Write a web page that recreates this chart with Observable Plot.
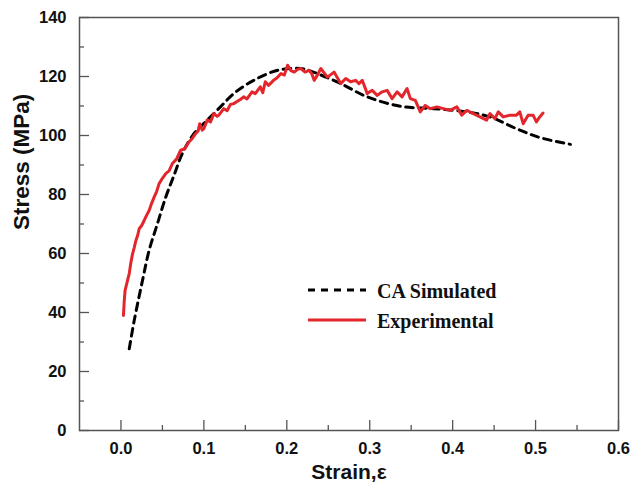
<!DOCTYPE html>
<html>
<head>
<meta charset="utf-8">
<script src="https://cdn.jsdelivr.net/npm/d3@7"></script>
<script src="https://cdn.jsdelivr.net/npm/@observablehq/plot@0.6"></script>
<style>
  html, body { margin: 0; padding: 0; background: #fff; }
  #wrap { position: relative; width: 633px; height: 492px; }
  #legend { position: absolute; left: 0; top: 0; pointer-events: none; }
</style>
</head>
<body>
<div id="wrap"></div>
<script>
// ---- data ----
const simStrain = [0.010, 0.016, 0.026, 0.034, 0.044, 0.054, 0.064, 0.074, 0.088, 0.104, 0.120, 0.136, 0.160, 0.189, 0.217, 0.232, 0.265, 0.297, 0.337, 0.377, 0.417, 0.445, 0.477, 0.505, 0.542];
const simStress = [27.7, 37.3, 50.9, 61.1, 70.1, 79.1, 86.5, 93.9, 100.6, 105.2, 109.7, 114.2, 118.7, 122.1, 122.7, 121.5, 117.6, 113.1, 109.9, 109.1, 108.0, 106.3, 102.3, 99.3, 97.0];

const expStrain = [0.003, 0.004, 0.005, 0.008, 0.010, 0.012, 0.014, 0.016, 0.018, 0.020, 0.022, 0.025, 0.028, 0.031, 0.034, 0.037, 0.040, 0.043, 0.046, 0.050, 0.054, 0.058, 0.062, 0.067, 0.072, 0.077, 0.082, 0.086, 0.090, 0.093, 0.095, 0.098, 0.100, 0.104, 0.108, 0.112, 0.116, 0.118, 0.124, 0.128, 0.132, 0.136, 0.140, 0.144, 0.148, 0.152, 0.158, 0.162, 0.168, 0.171, 0.174, 0.178, 0.184, 0.188, 0.193, 0.197, 0.201, 0.205, 0.209, 0.213, 0.217, 0.222, 0.227, 0.230, 0.233, 0.237, 0.241, 0.249, 0.257, 0.265, 0.271, 0.277, 0.283, 0.287, 0.291, 0.297, 0.303, 0.309, 0.315, 0.321, 0.327, 0.333, 0.339, 0.345, 0.349, 0.355, 0.361, 0.367, 0.373, 0.381, 0.389, 0.397, 0.405, 0.411, 0.417, 0.425, 0.433, 0.441, 0.445, 0.451, 0.455, 0.461, 0.469, 0.477, 0.481, 0.485, 0.491, 0.497, 0.501, 0.505, 0.509];
const expStress = [39.0, 44.0, 47.5, 51.0, 53.2, 57.0, 59.9, 62.0, 64.4, 66.0, 68.4, 69.5, 71.2, 73.0, 74.6, 77.0, 79.1, 81.0, 83.7, 85.5, 87.1, 88.0, 90.5, 92.0, 95.0, 95.5, 97.8, 99.0, 100.6, 101.5, 104.0, 101.8, 102.3, 105.2, 104.6, 107.4, 106.5, 106.9, 109.1, 108.4, 110.5, 110.8, 111.5, 112.2, 113.1, 112.4, 114.8, 114.2, 116.5, 114.5, 118.2, 117.0, 118.7, 119.5, 121.0, 120.5, 123.8, 122.0, 121.5, 122.4, 122.7, 121.5, 122.1, 121.0, 118.7, 120.5, 122.7, 119.8, 121.5, 117.6, 119.3, 118.2, 118.7, 117.6, 118.7, 114.2, 115.3, 113.6, 114.8, 115.3, 112.5, 114.8, 113.1, 115.9, 112.5, 111.9, 108.0, 110.2, 109.1, 109.7, 109.1, 108.5, 109.7, 106.9, 108.5, 107.4, 106.3, 105.2, 107.4, 105.7, 108.0, 106.3, 106.9, 106.9, 108.0, 104.0, 106.9, 106.9, 104.6, 106.3, 107.6];

const xMajor = [0.0, 0.1, 0.2, 0.3, 0.4, 0.5, 0.6];
const xMinor = [0.05, 0.15, 0.25, 0.35, 0.45, 0.55];
const yMajor = [0, 20, 40, 60, 80, 100, 120, 140];
const yMinor = [10, 30, 50, 70, 90, 110, 130];

const seriesNames = ["CA Simulated", "Experimental"];
const xTitle = "Strain,ε";
const yTitle = "Stress (MPa)";

// ---- build tables ----
const sim = simStrain.map((x, i) => ({x, y: simStress[i]}));
const exp = expStrain.map((x, i) => ({x, y: expStress[i]}));

const red = "#e3262c";
const axisGray = "#555";

const chart = Plot.plot({
  width: 633,
  height: 492,
  marginLeft: 79,
  marginRight: 15,
  marginTop: 17,
  marginBottom: 62,
  x: {domain: [-0.05, 0.6]},
  y: {domain: [0, 140]},
  style: {fontFamily: "'Liberation Sans', Arial, sans-serif", fontWeight: "bold", fontSize: "16px", color: "#111", background: "#fff"},
  marks: [
    Plot.axisX(xMajor, {tickSize: -10, text: null, label: null, stroke: axisGray, strokeWidth: 1.3}),
    Plot.axisX(xMinor, {tickSize: -5, text: null, label: null, stroke: axisGray, strokeWidth: 1.3}),
    Plot.axisX(xMajor, {tickSize: 0, tickPadding: 12, tickFormat: d => d.toFixed(1), label: null, fontSize: 16.5}),
    Plot.axisY(yMajor, {tickSize: -10, text: null, label: null, stroke: axisGray, strokeWidth: 1.3}),
    Plot.axisY(yMinor, {tickSize: -5, text: null, label: null, stroke: axisGray, strokeWidth: 1.3}),
    Plot.axisY(yMajor, {tickSize: 0, tickPadding: 13, label: null, fontSize: 16.5}),
    Plot.frame({stroke: axisGray, strokeWidth: 1.5}),
    Plot.line(sim, {x: "x", y: "y", stroke: "#000", strokeWidth: 3, strokeDasharray: "7.5,5.5", curve: "catmull-rom"}),
    Plot.line(exp, {x: "x", y: "y", stroke: red, strokeWidth: 3, strokeLinejoin: "round"}),
    Plot.text([xTitle], {frameAnchor: "bottom", dy: 48, fontSize: 21, fontWeight: "bold", fill: "#111"}),
    Plot.text([yTitle], {frameAnchor: "left", rotate: -90, dx: -58, dy: 6, fontSize: 22.5, fontWeight: "bold", fill: "#111"})
  ]
});

const wrap = document.getElementById("wrap");
wrap.appendChild(chart);

// legend overlay
const ns = "http://www.w3.org/2000/svg";
const leg = document.createElementNS(ns, "svg");
leg.setAttribute("id", "legend");
leg.setAttribute("width", 633);
leg.setAttribute("height", 492);
const items = [
  {name: seriesNames[0], stroke: "#000", dash: "7,6", y: 290},
  {name: seriesNames[1], stroke: red, dash: null, y: 320}
];
for (const it of items) {
  const l = document.createElementNS(ns, "line");
  l.setAttribute("x1", 308); l.setAttribute("x2", 366);
  l.setAttribute("y1", it.y); l.setAttribute("y2", it.y);
  l.setAttribute("stroke", it.stroke); l.setAttribute("stroke-width", 3);
  if (it.dash) l.setAttribute("stroke-dasharray", it.dash);
  leg.appendChild(l);
  const t = document.createElementNS(ns, "text");
  t.setAttribute("x", 377); t.setAttribute("y", it.y + 8);
  t.setAttribute("font-family", "'Liberation Serif', 'Times New Roman', serif");
  t.setAttribute("font-weight", "bold");
  t.setAttribute("font-size", 20);
  t.setAttribute("fill", "#111");
  t.textContent = it.name;
  leg.appendChild(t);
}
wrap.appendChild(leg);
</script>
</body>
</html>
